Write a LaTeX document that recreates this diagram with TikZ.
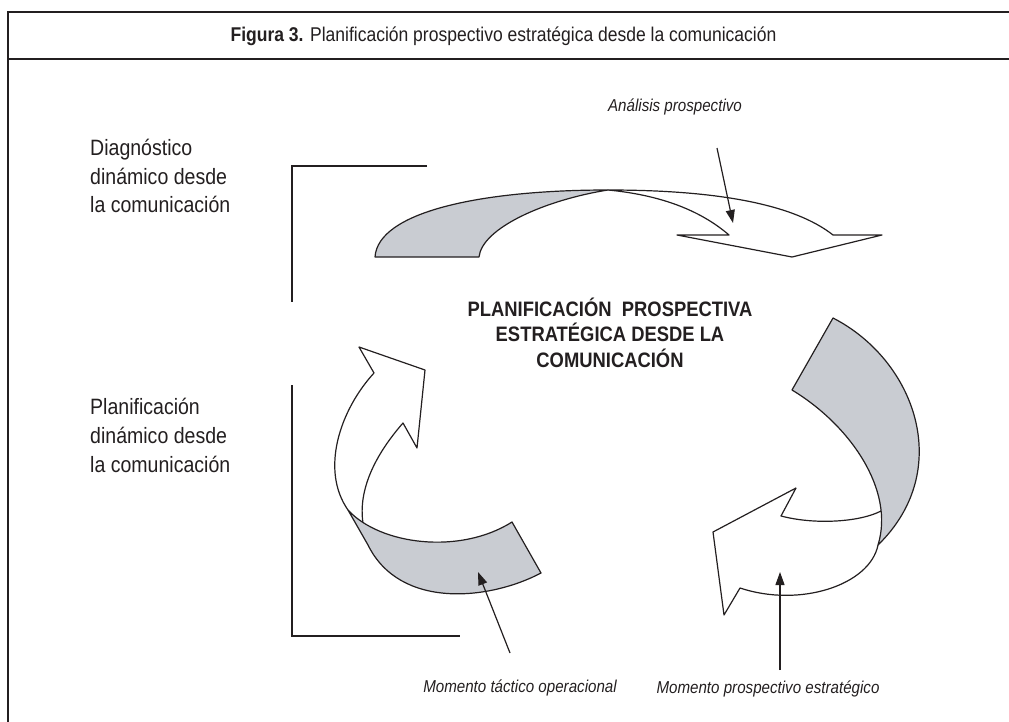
\documentclass[tikz,border=0pt]{standalone}
\usepackage{fontspec}
\setmainfont{Liberation Sans}[FakeStretch=0.88]
\usetikzlibrary{arrows.meta}
\definecolor{ribbon}{RGB}{201,204,210}
\definecolor{ink}{RGB}{35,31,32}
\tikzset{
  frameline/.style={draw=ink, line width=2.4pt},
  bracketline/.style={draw=ink, line width=1.3pt},
  ribbonedge/.style={draw=ink, line width=1.2pt, line join=round},
  ribbonfill/.style={ribbonedge, fill=ribbon},
  pointer/.style={draw=ink, line width=1.2pt, -{Triangle[length=13pt,width=9pt]}},
  sidelabel/.style={anchor=base west, align=left, inner sep=0pt, text=ink, font=\fontsize{22.2}{28.7}\selectfont},
  notelabel/.style={anchor=base, inner sep=0pt, text=ink, font=\itshape\fontsize{17.2}{20}\selectfont},
}
\begin{document}
\begin{tikzpicture}[x=1pt,y=-1pt]
\useasboundingbox (0,0) rectangle (1009,722);
% frame
\draw[frameline] (1020,12) -- (8,12) -- (8,735);
\draw[frameline] (8,59) -- (1020,59);
\node[anchor=base, inner sep=0pt, text=ink, font=\fontsize{19.9}{24}\selectfont] (title) at (503.5,42)
  {\textbf{Figura 3.} Planificación prospectivo estratégica desde la comunicación};

% side labels and brackets
\node[sidelabel] (diag) at (90,213) {Diagnóstico\\dinámico desde\\la comunicación};
\node[sidelabel] (plan) at (90,472) {Planificación\\dinámico desde\\la comunicación};
\draw[bracketline] (427,166) -- (292,166) -- (292,302);
\draw[bracketline] (292,385) -- (292,636) -- (460,636);

% central title
\node[anchor=base, align=center, inner sep=0pt, text=ink, font=\bfseries\fontsize{20.9}{25.5}\selectfont] (centre) at (610,367)
  {PLANIFICACIÓN\ \ PROSPECTIVA\\ESTRATÉGICA DESDE LA\\COMUNICACIÓN};

% top arrow (diagnóstico)
\draw[ribbonedge] (608,190) .. controls (720,190) and (795,205) .. (833,235)
  -- (882,235) -- (792,257) -- (677,235) -- (729,235)
  .. controls (700,210) and (660,195) .. (608,190) -- cycle;
\draw[ribbonfill] (375,257) .. controls (378,212) and (480,190) .. (608,190)
  .. controls (545,200) and (482,228) .. (479,257) -- cycle;

% right arrow (prospectivo estratégico)
\draw[ribbonedge] (881,511) .. controls (860,522) and (815,525) .. (781,516)
  -- (796,488) -- (713,532) -- (724,615) -- (740,588)
  .. controls (800,608) and (870,585) .. (878,545);
\draw[ribbonfill] (833,318) .. controls (915,360) and (955,470) .. (878,545)
  .. controls (895,490) and (850,425) .. (792,390) -- cycle;

% left arrow (táctico operacional)
\draw[ribbonedge] (348,510) .. controls (320,470) and (340,410) .. (374,373)
  -- (359,347) -- (425,370) -- (417,448) -- (403,423)
  .. controls (375,455) and (358,490) .. (363,523);
\draw[ribbonfill] (348,510) .. controls (380,545) and (460,555) .. (512,522)
  -- (541,573) .. controls (490,600) and (400,610) .. (368,545) -- cycle;

% annotations
\node[notelabel] (analisis) at (675,112) {Análisis prospectivo};
\node[notelabel] (tactico) at (520,692) {Momento táctico operacional};
\node[notelabel] (prosp) at (768,693) {Momento prospectivo estratégico};
\coordinate (analisisTail) at (717,148);
\coordinate (analisisTip) at (733,223);
\coordinate (tacticoTail) at (510,653);
\coordinate (tacticoTip) at (478,572);
\coordinate (prospTail) at (780,670);
\coordinate (prospTip) at (780,572);
\draw[pointer] (analisisTail) -- (analisisTip);
\draw[pointer] (tacticoTail) -- (tacticoTip);
\draw[pointer] (prospTail) -- (prospTip);
\end{tikzpicture}
\end{document}
